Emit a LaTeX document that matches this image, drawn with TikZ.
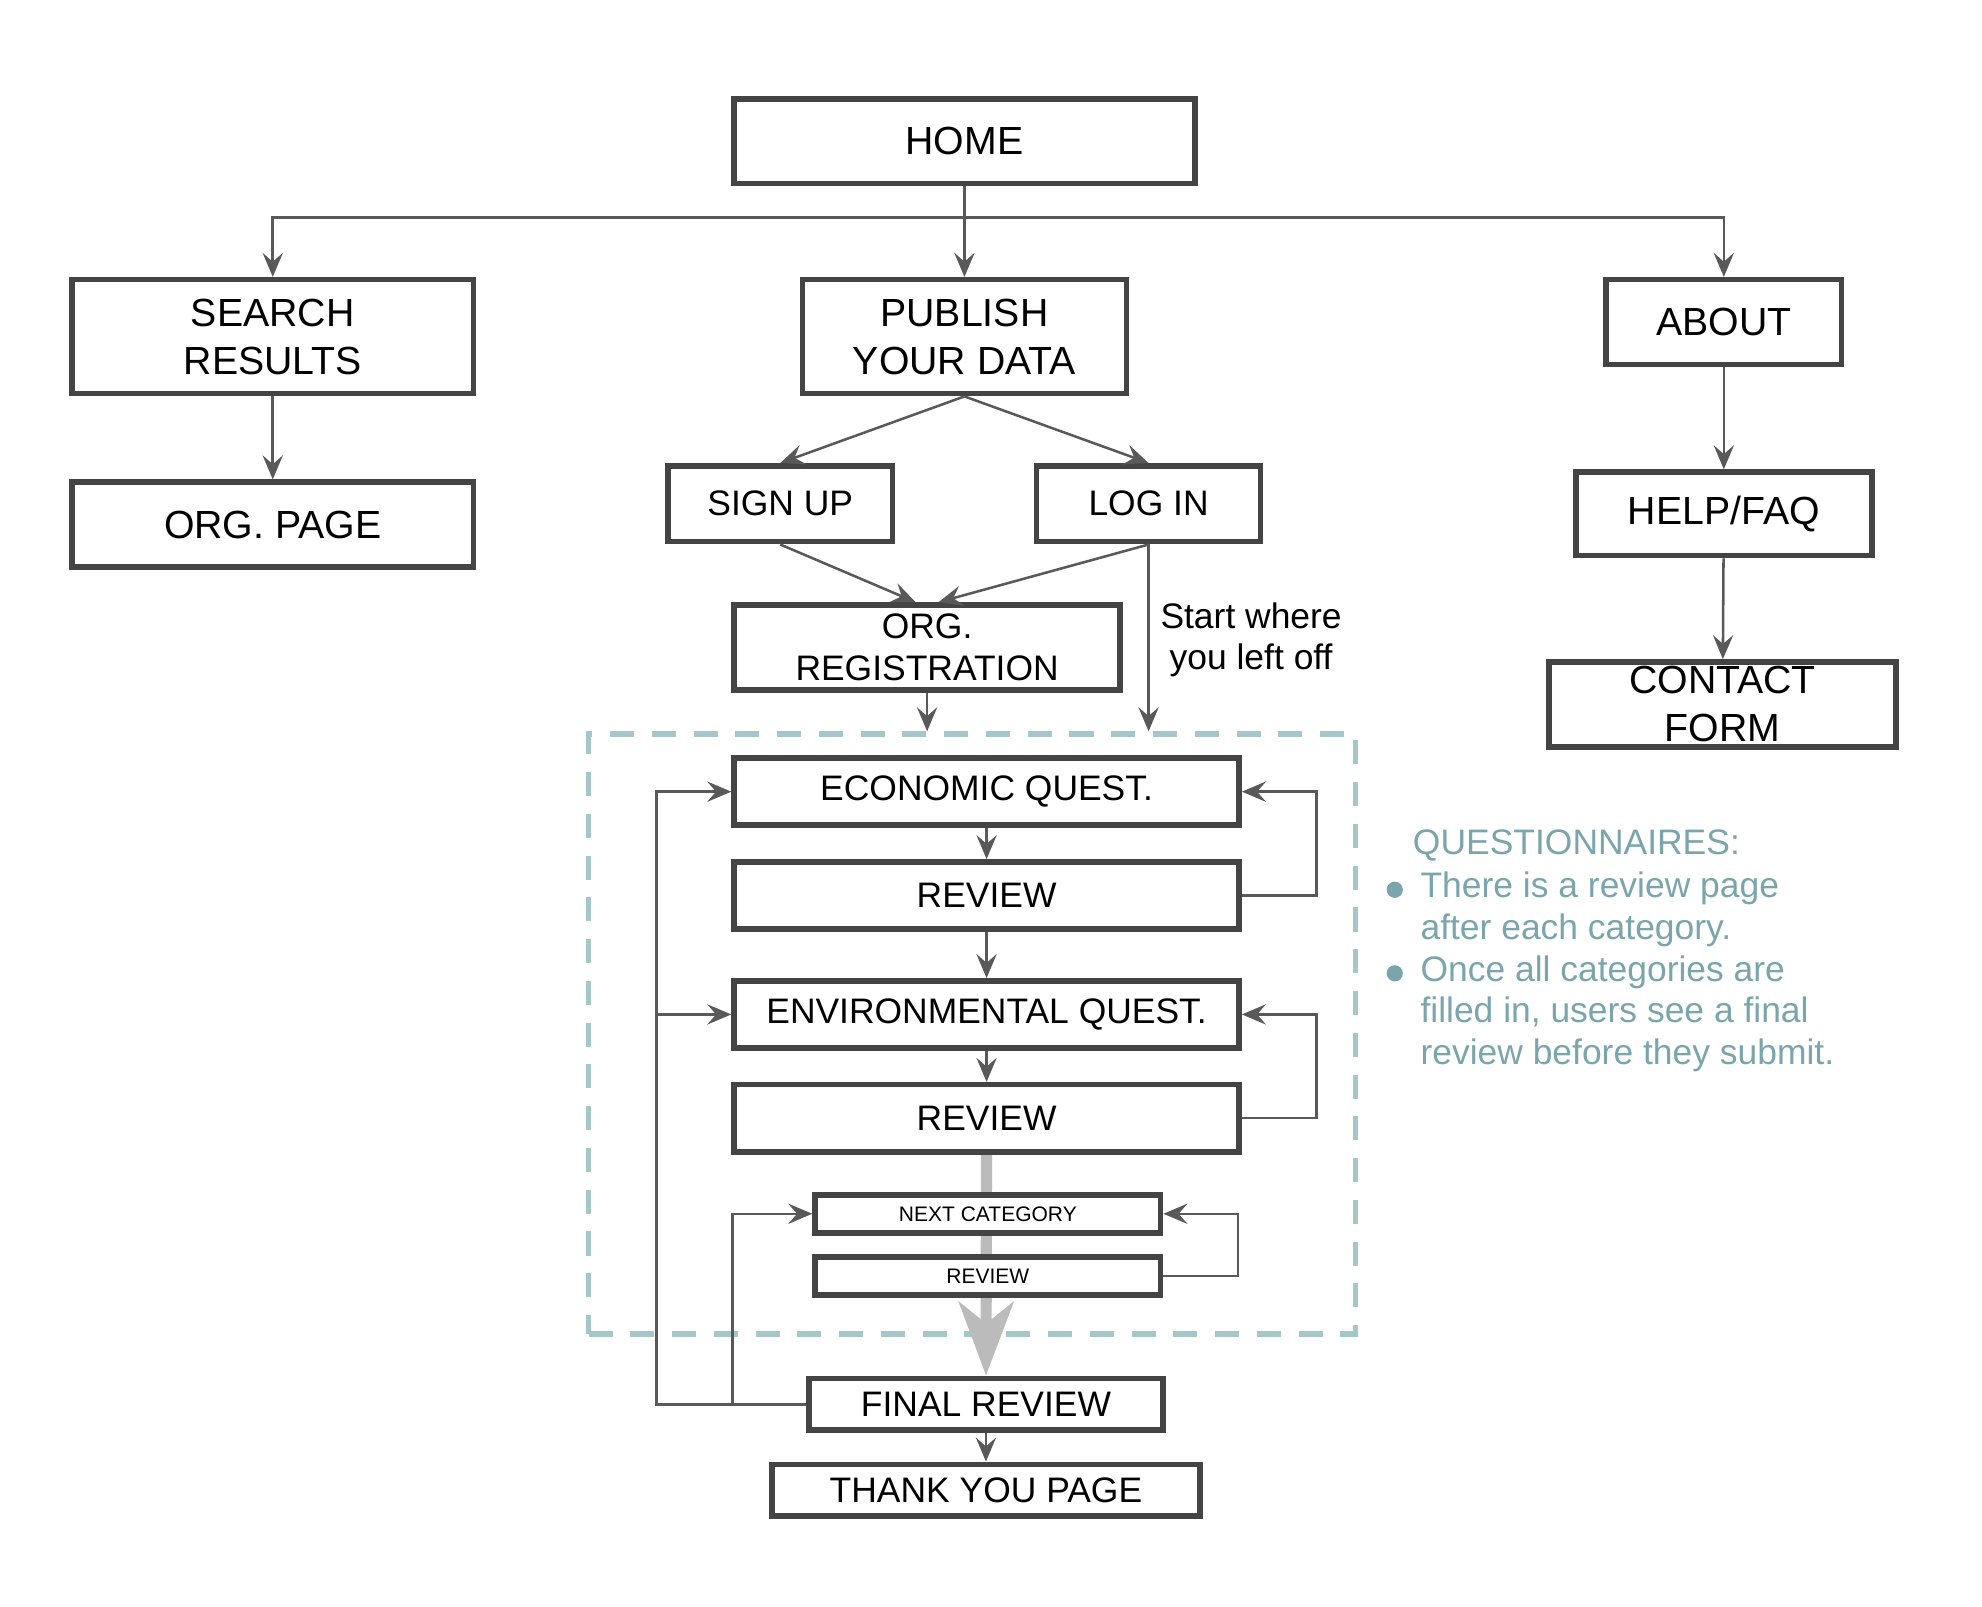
\documentclass[tikz,border=0pt]{standalone}
\usepackage{fontspec}
\setmainfont{Liberation Sans}
\usetikzlibrary{arrows.meta,backgrounds}

\definecolor{boxgray}{HTML}{444444}
\definecolor{linkgray}{HTML}{595959}
\definecolor{flowgray}{HTML}{BBBBBB}
\definecolor{framecol}{HTML}{A5C7CA}
\definecolor{notecol}{HTML}{7AA5AC}

\begin{document}
\begin{tikzpicture}[x=0.5pt, y=-0.5pt, >={Stealth[length=9.5pt,width=8pt,inset=3.5pt]}]

  \tikzstyle{pagebox}=[draw=boxgray, line width=2.2pt, fill=white, inner sep=0pt, align=center, font=\fontsize{15.5}{19}\selectfont]
  \tikzstyle{subbox}=[pagebox, font=\fontsize{14}{16.5}\selectfont]
  \tikzstyle{questbox}=[subbox, minimum width=199.5pt, minimum height=26.5pt]
  \tikzstyle{tinybox}=[pagebox, minimum width=136.5pt, minimum height=15pt, font=\fontsize{8.3}{10}\selectfont]
  \tikzstyle{qframebox}=[draw=framecol, line width=2.2pt, dash pattern=on 9.5pt off 7pt, inner sep=0pt]
  \tikzstyle{linkto}=[->, color=linkgray, line width=1pt]
  \tikzstyle{flowto}=[-{Stealth[length=29pt,width=21.5pt,inset=8.5pt]}, draw=flowgray, fill=flowgray, line width=4.4pt]
  \tikzstyle{note}=[text=notecol, inner sep=0pt, align=left, font=\fontsize{14}{16.5}\selectfont]

  \useasboundingbox (0,0) rectangle (1566,1269);

  % site map
  \node[pagebox, minimum width=182pt, minimum height=33.5pt]   (home)    at (762,111.5)   {HOME};
  \node[pagebox, minimum width=158.5pt, minimum height=45pt]   (search)  at (215.5,266)   {SEARCH\\RESULTS};
  \node[pagebox, minimum width=158.5pt, minimum height=33.5pt] (orgpage) at (215.5,414.5) {ORG. PAGE};
  \node[pagebox, minimum width=128pt, minimum height=45pt]     (publish) at (762,266)     {PUBLISH\\YOUR DATA};
  \node[pagebox, minimum width=93pt, minimum height=33.5pt]    (about)   at (1362,254.5)  {ABOUT};
  \node[pagebox, minimum width=117pt, minimum height=33pt]     (helpfaq) at (1362,406)    {HELP/FAQ};
  \node[pagebox, minimum width=137pt, minimum height=33.5pt]   (contact) at (1361,556.5)  {CONTACT\\FORM};

  \node[subbox, minimum width=88.5pt, minimum height=30pt]     (signup)  at (616.5,398)   {SIGN UP};
  \node[subbox, minimum width=88.5pt, minimum height=30pt]     (login)   at (907.5,398)   {LOG IN};
  \node[subbox, minimum width=152.5pt, minimum height=33.5pt]  (orgreg)  at (732.5,511.5) {ORG.\\REGISTRATION};
  \node[align=center, inner sep=0pt, font=\fontsize{14}{16.5}\selectfont] (resume) at (988.5,505.5) {Start where\\you left off};

  % questionnaires
  \node[questbox] (econ)    at (779.5,625.5) {ECONOMIC QUEST.};
  \node[questbox] (review1) at (779.5,707.5) {REVIEW};
  \node[questbox] (env)     at (779.5,801.5) {ENVIRONMENTAL QUEST.};
  \node[questbox] (review2) at (779.5,883.5) {REVIEW};
  \node[tinybox]  (nextcat) at (780.5,959)   {NEXT CATEGORY};
  \node[tinybox]  (review3) at (780.5,1008)  {REVIEW};
  \node[subbox, minimum width=140pt, minimum height=20.5pt] (final)  at (779,1109.5) {FINAL REVIEW};
  \node[subbox, minimum width=169pt, minimum height=20.5pt] (thanks) at (779,1177.5) {THANK YOU PAGE};

  \begin{scope}[on background layer]
    \node[qframebox, minimum width=303pt, minimum height=237pt] (qframe) at (768,817) {};
    \draw[flowto] (review2) -- (final);
  \end{scope}

  % side note
  \node[note, anchor=west] (qhead)  at (1116,668)   {QUESTIONNAIRES:};
  \node[note, anchor=west] (qitemA) at (1122,718.5) {There is a review page\\after each category.};
  \node[note, anchor=west] (qitemB) at (1122,801)   {Once all categories are\\filled in, users see a final\\review before they submit.};
  \fill[notecol] (1102,703) circle (3.2pt);
  \fill[notecol] (1102,769) circle (3.2pt);

  % links
  \coordinate (hub) at (762,172);
  \draw[linkto] (home.south) -- (hub) -| (search);
  \draw[linkto] (hub) -- (publish);
  \draw[linkto] (hub) -| (about);

  \path[linkto]
    (search)        edge (orgpage)
    (about)         edge (helpfaq)
    (helpfaq)       edge (contact)
    (publish.south) edge (signup.north)
    (publish.south) edge (login.north)
    (signup.south)  edge ([xshift=-4.5pt]orgreg.north)
    (login.south)   edge ([xshift=4.5pt]orgreg.north)
    (orgreg)        edge (orgreg |- qframe.north)
    (login.south)   edge (login.south |- qframe.north)
    (econ)          edge (review1)
    (review1)       edge (env)
    (env)           edge (review2)
    (final)         edge (thanks);

  \draw[linkto] (review1.east) -- ++(59,0) |- (econ.east);
  \draw[linkto] (review2.east) -- ++(59,0) |- (env.east);
  \draw[linkto] (review3.east) -- ++(59,0) |- (nextcat.east);
  \draw[linkto] (final.west) -- ++(-118,0) coordinate (backA) |- (econ.west);
  \draw[linkto] (backA |- env.west) -- (env.west);
  \draw[linkto] (final.west) -- ++(-58,0) |- (nextcat.west);

\end{tikzpicture}
\end{document}
